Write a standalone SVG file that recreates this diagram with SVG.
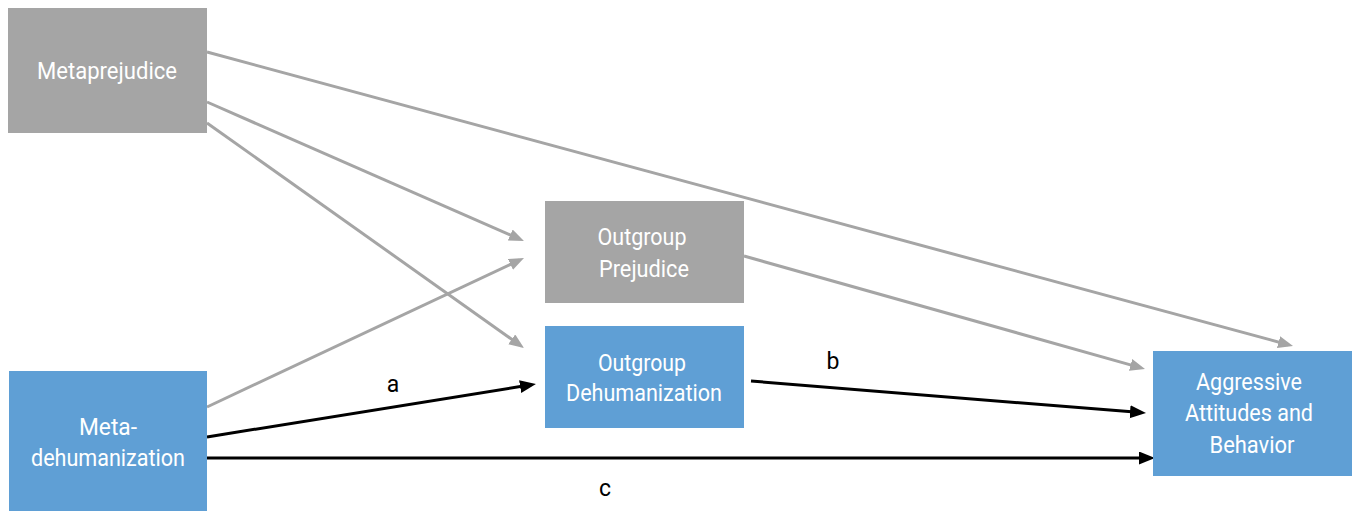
<svg xmlns="http://www.w3.org/2000/svg" width="1353" height="511" viewBox="0 0 1353 511">
<style>
.gray{fill:#a5a5a5}
.blue{fill:#5f9fd5}
.nt{fill:#ffffff;font-family:Roboto,"Liberation Sans",sans-serif;font-size:24px;text-anchor:middle}
.lt{fill:#000000;font-family:Roboto,"Liberation Sans",sans-serif;font-size:23px;text-anchor:middle}
.gl{stroke:#a5a5a5;stroke-width:3;fill:none;marker-end:url(#ag)}
.bl{stroke:#000000;stroke-width:3;fill:none;marker-end:url(#ab)}
</style>
<defs>
<marker id="ag" markerUnits="userSpaceOnUse" markerWidth="16" markerHeight="13" refX="10" refY="6" orient="auto">
<path d="M0,0 L15,6 L0,12 z" fill="#a5a5a5"/>
</marker>
<marker id="ab" markerUnits="userSpaceOnUse" markerWidth="17" markerHeight="14" refX="11" refY="6.5" orient="auto">
<path d="M0,0 L16,6.5 L0,13 z" fill="#000000"/>
</marker>
</defs>
<g id="connectors">
<line class="gl" x1="207" y1="52" x2="1288.2" y2="344.7"/>
<line class="gl" x1="207" y1="102" x2="519.4" y2="239"/>
<line class="gl" x1="207" y1="123" x2="519.9" y2="345.1"/>
<line class="gl" x1="207" y1="407" x2="519.5" y2="260.1"/>
<line class="gl" x1="744" y1="256" x2="1140.2" y2="367.6"/>
<line class="bl" x1="207" y1="437" x2="531" y2="384.8"/>
<line class="bl" x1="751" y1="381" x2="1141" y2="412.6"/>
<line class="bl" x1="207" y1="458" x2="1150" y2="458"/>
<text class="lt" x="393" y="392">a</text>
<text class="lt" x="833" y="369">b</text>
<text class="lt" x="605" y="496">c</text>
</g>
<g id="metaprejudice">
<rect class="gray" x="8" y="8" width="199" height="125"/>
<text class="nt" x="107" y="79" textLength="140" lengthAdjust="spacingAndGlyphs">Metaprejudice</text>
</g>
<g id="outgroup-prejudice">
<rect class="gray" x="545" y="201" width="199" height="102"/>
<text class="nt" x="642" y="245" textLength="89" lengthAdjust="spacingAndGlyphs">Outgroup</text>
<text class="nt" x="644" y="277" textLength="90" lengthAdjust="spacingAndGlyphs">Prejudice</text>
</g>
<g id="outgroup-dehumanization">
<rect class="blue" x="545" y="326" width="199" height="102"/>
<text class="nt" x="642" y="371" textLength="88" lengthAdjust="spacingAndGlyphs">Outgroup</text>
<text class="nt" x="644" y="401" textLength="156" lengthAdjust="spacingAndGlyphs">Dehumanization</text>
</g>
<g id="meta-dehumanization">
<rect class="blue" x="9" y="371" width="198" height="140"/>
<text class="nt" x="108" y="435" textLength="58" lengthAdjust="spacingAndGlyphs">Meta-</text>
<text class="nt" x="108" y="466" textLength="154" lengthAdjust="spacingAndGlyphs">dehumanization</text>
</g>
<g id="aggressive">
<rect class="blue" x="1153" y="351" width="199" height="125"/>
<text class="nt" x="1249" y="390" textLength="106" lengthAdjust="spacingAndGlyphs">Aggressive</text>
<text class="nt" x="1249" y="421" textLength="128" lengthAdjust="spacingAndGlyphs">Attitudes and</text>
<text class="nt" x="1252" y="453" textLength="85" lengthAdjust="spacingAndGlyphs">Behavior</text>
</g>
</svg>
